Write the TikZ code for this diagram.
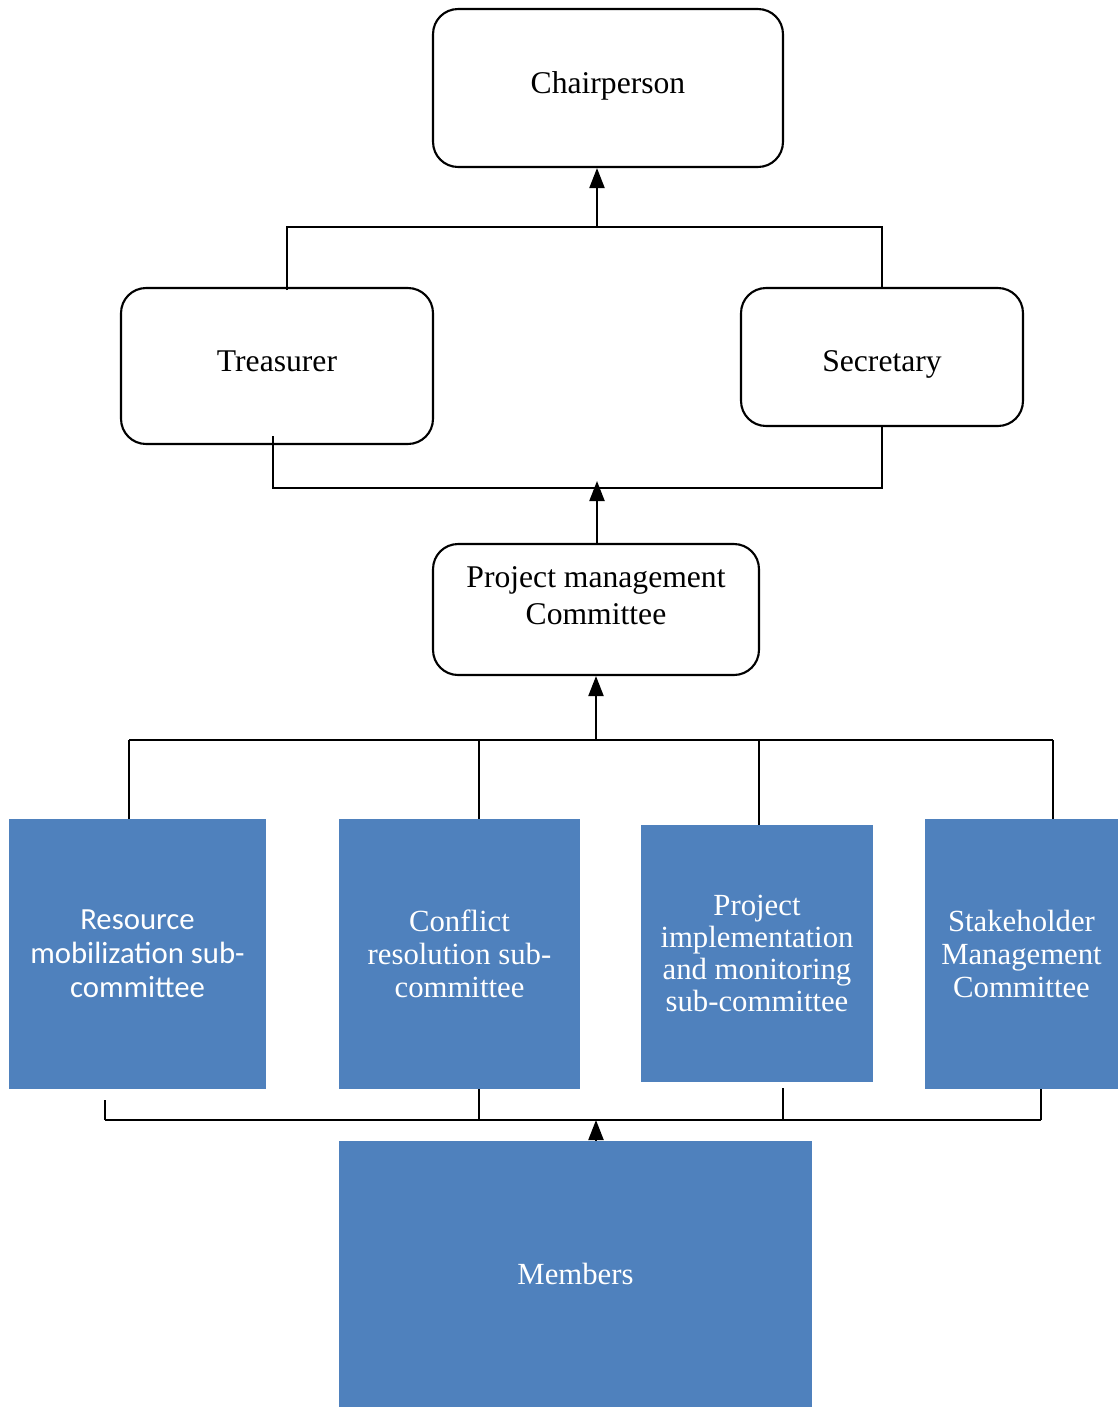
\documentclass[tikz,border=0pt]{standalone}
\usepackage{fontspec}
\setmainfont{Liberation Serif}
\newfontfamily\calib{Carlito}
\usetikzlibrary{arrows.meta}
\definecolor{boxblue}{HTML}{4F81BD}

\begin{document}
\begin{tikzpicture}[x=0.02cm, y=-0.02cm,
  main/.style = {draw, rounded corners=0.5cm, line width=1.2pt, align=center, inner sep=2pt, font=\fontsize{18}{21}\selectfont},
  sub/.style = {fill=boxblue, text=white, align=center, inner sep=2pt, font=\fontsize{17.5}{18.8}\selectfont},
  link/.style = {line width=1.2pt},
  arr/.style = {line width=1.2pt, -{Triangle[width=0.3cm,length=0.4cm]}}]
\useasboundingbox (0,0) rectangle (1118,1407);
\node[main, minimum width=7cm, minimum height=3.16cm, text depth=0.22cm] (chair) at (608,88) {Chairperson};
\node[main, minimum width=6.24cm, minimum height=3.12cm, text depth=0.21cm] (treas) at (277,366) {Treasurer};
\node[main, minimum width=5.64cm, minimum height=2.76cm, text height=0.72cm] (sec) at (882,357) {Secretary};
\node[main, minimum width=6.52cm, minimum height=2.62cm, text depth=0.55cm] (pmc) at (596,609.5) {Project management\\Committee};
\node[sub, minimum width=5.14cm, minimum height=5.4cm, font=\calib\fontsize{17.5}{19.3}\selectfont] (res) at (137.5,954) {Resource\\mobilization sub-\\committee};
\node[sub, minimum width=4.82cm, minimum height=5.4cm] (con) at (459.5,954) {Conflict\\resolution sub-\\committee};
\node[sub, minimum width=4.64cm, minimum height=5.14cm, font=\fontsize{17.5}{18.2}\selectfont] (imp) at (757,953.5) {Project\\implementation\\and monitoring\\sub-committee};
\node[sub, minimum width=3.86cm, minimum height=5.4cm] (stk) at (1021.5,954) {Stakeholder\\Management\\Committee};
\node[sub, minimum width=9.46cm, minimum height=5.32cm] (mem) at (575.5,1274) {Members};

\coordinate (up1) at (597,227);
\coordinate (tl) at (287,290);
\draw[link] (tl) |- (up1) -| (sec.north);
\draw[arr] (up1) -- (up1 |- chair.south);

\coordinate (up2) at (597,488);
\coordinate (tb) at (273,436);
\draw[link] (tb) |- (up2) -| (sec.south);
\draw[arr, shorten >=-0.14cm] (up2 |- pmc.north) -- (up2);

\coordinate (up3) at (596,740);
\coordinate (b1) at (129,740);
\coordinate (b2) at (479,740);
\coordinate (b3) at (759,740);
\coordinate (b4) at (1053,740);
\draw[link] (b1) -- (b4);
\draw[link] (b1) -- (b1 |- res.north);
\draw[link] (b2) -- (b2 |- con.north);
\draw[link] (b3) -- (b3 |- imp.north);
\draw[link] (b4) -- (b4 |- stk.north);
\draw[arr] (up3) -- (up3 |- pmc.south);

\coordinate (up4) at (596,1120);
\coordinate (c1) at (105,1120);
\coordinate (c2) at (479,1120);
\coordinate (c3) at (783,1120);
\coordinate (c4) at (1041,1120);
\draw[link] (c1) -- (c4);
\draw[link] (c1) -- +(0,-20);
\draw[link] (c2) -- (c2 |- con.south);
\draw[link] (c3) -- +(0,-32);
\draw[link] (c4) -- (c4 |- stk.south);
\draw[arr] (up4 |- mem.north) -- (up4);
\end{tikzpicture}
\end{document}
